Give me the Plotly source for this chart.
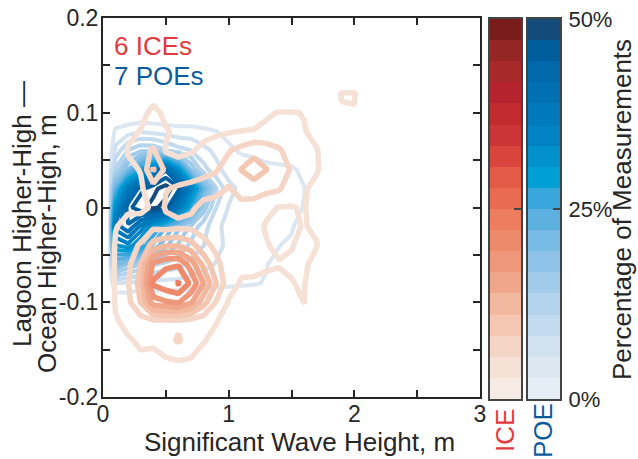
import plotly.graph_objects as go

# ---------------- data (percent of measurements on a wave-height x water-level grid) ----------------
X_GRID = [0.045, 0.1, 0.2, 0.3, 0.4, 0.5, 0.6, 0.7, 0.8, 0.9, 1.0, 1.1, 1.2, 1.3, 1.4, 1.5,
          1.6, 1.7, 1.8, 1.9, 2.0, 2.1, 2.2]
Y_GRID = [0.14, 0.12, 0.10, 0.08, 0.06, 0.04, 0.02, 0.0, -0.02, -0.04, -0.06, -0.08,
          -0.10, -0.12, -0.14, -0.16, -0.18]

ICE_PCT = [
    [0, 0, 0, 0, 0, 0, 0, 0, 0, 0, 0, 0, 0, 0, 0, 0, 0, 0, 0, 0, 0, 0, 0],
    [0, 0, 0, 0, 1.7, 0, 0, 0, 0, 0, 0, 0, 0, 0, 0, 0, 0, 0, 1.5, 2.9, 3.0, 0, 0],
    [0, 0, 0, 1.9, 3.5, 2.2, 0, 0, 0, 0, 0, 0, 0, 2.4, 2.9, 2.9, 2.7, 1.9, 0, 2.6, 2.6, 0, 0],
    [0, 0, 2.2, 2.9, 4.2, 3.0, 2.2, 2.2, 2.3, 2.4, 2.6, 2.9, 3.2, 3.4, 3.6, 3.2, 2.9, 2.2, 0, 1.2, 1.2, 0, 0],
    [0, 0, 3.0, 4.4, 5.9, 2.6, 2.2, 2.6, 3.2, 3.9, 5.4, 6.4, 7.4, 6.9, 5.9, 4.4, 3.4, 2.9, 1.7, 0, 0, 0, 0],
    [0, 0, 2.2, 2.9, 8.6, 4.9, 3.9, 3.9, 4.9, 5.4, 6.4, 8.4, 9.9, 8.4, 6.4, 5.4, 3.4, 3.0, 1.6, 0, 0, 0, 0],
    [0, 0, 1.9, 2.4, 4.4, 5.4, 5.9, 6.4, 6.4, 6.4, 5.4, 6.4, 6.9, 6.4, 5.9, 3.9, 3.0, 2.2, 0, 0, 0, 0, 0],
    [0, 1.7, 2.2, 2.4, 3.0, 5.9, 6.4, 5.9, 5.0, 4.4, 4.4, 4.9, 4.4, 3.2, 2.7, 2.7, 2.9, 1.9, 0, 0, 0, 0, 0],
    [0, 2.6, 3.9, 3.6, 4.9, 4.4, 4.9, 4.9, 4.4, 4.2, 3.9, 3.9, 3.4, 2.6, 2.2, 2.4, 2.9, 2.4, 0, 0, 0, 0, 0],
    [0, 3.2, 4.4, 5.9, 9.4, 10.9, 10.9, 9.4, 6.4, 4.9, 3.4, 3.4, 3.2, 2.9, 2.4, 2.7, 3.2, 2.9, 0, 0, 0, 0, 0],
    [0, 3.4, 4.9, 8.4, 17.4, 18.9, 19.2, 15.4, 10.4, 6.4, 3.9, 3.2, 3.1, 3.0, 2.9, 3.0, 3.2, 1.9, 0, 0, 0, 0, 0],
    [0, 3.4, 5.4, 9.4, 19.9, 21.2, 22.4, 18.9, 13.9, 8.4, 3.6, 2.6, 2.6, 2.4, 2.2, 2.7, 3.0, 0, 0, 0, 0, 0, 0],
    [0, 3.2, 4.9, 8.4, 15.4, 16.4, 16.9, 14.4, 9.4, 5.4, 2.6, 1.9, 1.7, 0, 0, 2.0, 2.8, 0, 0, 0, 0, 0, 0],
    [0, 2.4, 3.9, 4.4, 4.9, 4.9, 4.9, 4.4, 3.9, 2.9, 1.9, 0, 0, 0, 0, 0, 0, 0, 0, 0, 0, 0, 0],
    [0, 1.7, 2.4, 3.4, 3.4, 4.4, 5.9, 3.9, 2.9, 2.2, 0, 0, 0, 0, 0, 0, 0, 0, 0, 0, 0, 0, 0],
    [0, 0, 1.9, 2.2, 1.9, 2.6, 3.0, 2.7, 2.2, 0, 0, 0, 0, 0, 0, 0, 0, 0, 0, 0, 0, 0, 0],
    [0, 0, 0, 0, 0, 0, 0, 0, 0, 0, 0, 0, 0, 0, 0, 0, 0, 0, 0, 0, 0, 0, 0],
]

POE_PCT = [
    [0, 0, 0, 0, 0, 0, 0, 0, 0, 0, 0, 0, 0, 0, 0, 0, 0, 0, 0, 0, 0, 0, 0],
    [0, 0, 0, 0, 0, 0, 0, 0, 0, 0, 0, 0, 0, 0, 0, 0, 0, 0, 0, 0, 0, 0, 0],
    [0, 0, 0, 0, 0, 0, 0, 0, 0, 0, 0, 0, 0, 0, 0, 0, 0, 0, 0, 0, 0, 0, 0],
    [0, 3.4, 4.4, 5.4, 4.9, 4.4, 3.9, 3.9, 3.4, 2.9, 1.9, 0, 0, 0, 0, 0, 0, 0, 0, 0, 0, 0, 0],
    [0, 6.4, 11.4, 13.4, 13.4, 11.4, 9.4, 8.4, 6.4, 4.9, 3.4, 2.4, 1.9, 0, 0, 0, 0, 0, 0, 0, 0, 0, 0],
    [0, 11.4, 19.4, 26.4, 34.4, 41.4, 30.4, 16.4, 9.4, 6.4, 4.4, 4.4, 4.4, 4.4, 3.9, 3.4, 1.9, 0, 0, 0, 0, 0, 0],
    [0, 21.4, 35.4, 43.5, 46.5, 48.5, 45.5, 33.4, 21.4, 11.4, 6.4, 4.9, 4.4, 4.4, 4.4, 3.9, 2.9, 0, 0, 0, 0, 0, 0],
    [0, 30.4, 43.5, 46.5, 48.0, 46.0, 36.4, 25.4, 15.4, 8.4, 5.4, 4.9, 4.9, 4.4, 4.4, 3.9, 2.6, 0, 0, 0, 0, 0, 0],
    [0, 37.4, 41.4, 35.4, 28.4, 22.4, 17.4, 13.4, 9.4, 6.4, 4.4, 3.9, 4.4, 4.4, 3.9, 3.4, 0, 0, 0, 0, 0, 0, 0],
    [0, 30.4, 32.4, 27.4, 21.4, 17.4, 13.4, 10.4, 8.4, 6.4, 4.9, 4.4, 3.9, 3.9, 2.9, 1.9, 0, 0, 0, 0, 0, 0, 0],
    [0, 19.4, 16.4, 13.4, 11.4, 10.4, 9.4, 7.4, 6.4, 5.4, 4.4, 3.9, 3.4, 2.9, 1.9, 0, 0, 0, 0, 0, 0, 0, 0],
    [0, 5.4, 5.4, 4.4, 4.4, 4.4, 4.4, 4.4, 3.9, 3.4, 3.4, 3.2, 3.0, 2.6, 0, 0, 0, 0, 0, 0, 0, 0, 0],
    [0, 0, 0, 0, 0, 0, 0, 0, 0, 0, 0, 0, 0, 0, 0, 0, 0, 0, 0, 0, 0, 0, 0],
    [0, 0, 0, 0, 0, 0, 0, 0, 0, 0, 0, 0, 0, 0, 0, 0, 0, 0, 0, 0, 0, 0, 0],
    [0, 0, 0, 0, 0, 0, 0, 0, 0, 0, 0, 0, 0, 0, 0, 0, 0, 0, 0, 0, 0, 0, 0],
    [0, 0, 0, 0, 0, 0, 0, 0, 0, 0, 0, 0, 0, 0, 0, 0, 0, 0, 0, 0, 0, 0, 0],
    [0, 0, 0, 0, 0, 0, 0, 0, 0, 0, 0, 0, 0, 0, 0, 0, 0, 0, 0, 0, 0, 0, 0],
]

PCT_MAX = 50
N_BANDS = 18
ICE_COLORS = ["#f7ece5", "#f6e1d6", "#f5d5c6", "#f4c7b3", "#f2b8a0", "#f0a68a",
              "#ef977a", "#ee8a6c", "#ec7d5f", "#e86a50", "#e35a47", "#d9443c",
              "#cc3535", "#c22b30", "#b5232e", "#a8292a", "#952624", "#7a1c1c"]
POE_COLORS = ["#e5edf5", "#dce7f2", "#d2e1ef", "#c4daee", "#b4d3ec", "#a2cbea",
              "#8fc3e8", "#78bbe5", "#5cb0e0", "#3aa7dc", "#00a0d6", "#0090cc",
              "#0082c4", "#0079bb", "#0070b3", "#0068ab", "#005d9c", "#144b7a"]
BAR_TICKS = [0, 25, 50]
BAR_TICK_TEXT = ["0%", "25%", "50%"]
X_TICKS = [0, 0.5, 1, 1.5, 2, 2.5, 3]
X_TICK_TEXT = ["0", "", "1", "", "2", "", "3"]
Y_TICKS = [-0.2, -0.15, -0.1, -0.05, 0, 0.05, 0.1, 0.15, 0.2]
Y_TICK_TEXT = ["-0.2", "", "-0.1", "", "0", "", "0.1", "", "0.2"]

# ---------------- helpers ----------------
W, H = 638, 459
FONT = "Liberation Sans, Arial, Helvetica, sans-serif"
INK = "#262626"
ICE_RED = "#e23a40"
POE_BLUE = "#0c5b9b"

step = PCT_MAX / N_BANDS


def line_scale(colors):
    # contour level k*step (k = 1..17) is drawn with the colour of band k+1
    n = len(colors) - 1
    return [[i / (n - 1), colors[i + 1]] for i in range(n)]


def band_scale(colors):
    sc = []
    n = len(colors)
    for i, c in enumerate(colors):
        sc.append([i / n, c])
        sc.append([(i + 1) / n, c])
    return sc


def px_x(p):
    return p / W


def px_y(p):
    return 1 - p / H


ys = Y_GRID[::-1]
fig = go.Figure()
for z, cols, width in ((POE_PCT, POE_COLORS, 4), (ICE_PCT, ICE_COLORS, 5.5)):
    fig.add_trace(go.Contour(
        x=X_GRID, y=ys, z=z[::-1],
        autocontour=False,
        contours=dict(start=step, end=(N_BANDS - 1) * step, size=step,
                      coloring="lines", showlabels=False),
        colorscale=line_scale(cols),
        line=dict(width=width, smoothing=0),
        showscale=False, hoverinfo="skip",
        xaxis="x", yaxis="y",
    ))

band_mid = [(i + 0.5) * step for i in range(N_BANDS)]
for cols, xa, ya in ((ICE_COLORS, "x2", "y2"), (POE_COLORS, "x3", "y3")):
    fig.add_trace(go.Heatmap(
        x=[0], y=band_mid, z=[[v] for v in band_mid],
        colorscale=band_scale(cols), zmin=0, zmax=PCT_MAX,
        showscale=False, hoverinfo="skip", xaxis=xa, yaxis=ya,
    ))

main_dom_x = [px_x(103), px_x(480)]
main_dom_y = [px_y(397), px_y(18)]
bar_dom_y = [px_y(399), px_y(19)]

axis_common = dict(showgrid=False, zeroline=False, showline=True, linewidth=2,
                   linecolor=INK, mirror="allticks", ticks="inside", ticklen=7,
                   tickwidth=1.5, tickcolor=INK, automargin=False,
                   tickfont=dict(family=FONT, size=23, color=INK))

bar_x = dict(range=[-0.5, 0.5], showgrid=False, zeroline=False, showticklabels=False,
             ticks="", showline=True, mirror=True, linewidth=2, linecolor="#444444",
             automargin=False)
bar_y = dict(range=[0, PCT_MAX], showgrid=False, zeroline=False, side="right",
             showline=True, mirror=True, linewidth=2, linecolor="#444444",
             ticks="inside", ticklen=7, tickwidth=1.5, tickcolor="#444444",
             tickvals=BAR_TICKS, ticktext=BAR_TICK_TEXT, automargin=False,
             tickfont=dict(family=FONT, size=22, color=INK))

fig.update_layout(
    width=W, height=H, margin=dict(l=0, r=0, t=0, b=0, autoexpand=False),
    paper_bgcolor="white", plot_bgcolor="white", showlegend=False,
    font=dict(family=FONT, color=INK),
    xaxis=dict(domain=main_dom_x, range=[0, 3], tickvals=X_TICKS, ticktext=X_TICK_TEXT,
               anchor="y", ticklabelstandoff=-5, **axis_common),
    yaxis=dict(domain=main_dom_y, range=[-0.2, 0.2], tickvals=Y_TICKS, ticktext=Y_TICK_TEXT,
               anchor="x", ticklabelstandoff=-2, **axis_common),
    xaxis2=dict(domain=[px_x(490), px_x(521)], anchor="y2", **bar_x),
    yaxis2=dict(domain=bar_dom_y, anchor="x2", showticklabels=False, **bar_y),
    xaxis3=dict(domain=[px_x(528), px_x(560)], anchor="y3", **bar_x),
    yaxis3=dict(domain=bar_dom_y, anchor="x3", showticklabels=True, ticklabelstandoff=2, **bar_y),
)

ann = [
    dict(text="6 ICEs", x=px_x(112), y=px_y(46), xanchor="left", yanchor="middle",
         font=dict(size=26, color=ICE_RED)),
    dict(text="7 POEs", x=px_x(112), y=px_y(76), xanchor="left", yanchor="middle",
         font=dict(size=26, color=POE_BLUE)),
    dict(text="Significant Wave Height, m", x=px_x(299), y=px_y(442),
         xanchor="center", yanchor="middle", font=dict(size=26, color=INK)),
    dict(text="Lagoon Higher-High \u2014", x=px_x(22), y=px_y(214), textangle=-90,
         xanchor="center", yanchor="middle", font=dict(size=26, color=INK)),
    dict(text="Ocean Higher-High, m", x=px_x(47), y=px_y(244), textangle=-90,
         xanchor="center", yanchor="middle", font=dict(size=26, color=INK)),
    dict(text="Percentage of Measurements", x=px_x(622), y=px_y(210), textangle=-90,
         xanchor="center", yanchor="middle", font=dict(size=26, color=INK)),
    dict(text="ICE", x=px_x(505), y=px_y(431), textangle=-90,
         xanchor="center", yanchor="middle", font=dict(size=26, color=ICE_RED)),
    dict(text="POE", x=px_x(543), y=px_y(431), textangle=-90,
         xanchor="center", yanchor="middle", font=dict(size=26, color=POE_BLUE)),
]
for a in ann:
    a.update(xref="paper", yref="paper", showarrow=False)
    a["font"]["family"] = FONT
fig.update_layout(annotations=ann)

fig.write_html("out.html")
